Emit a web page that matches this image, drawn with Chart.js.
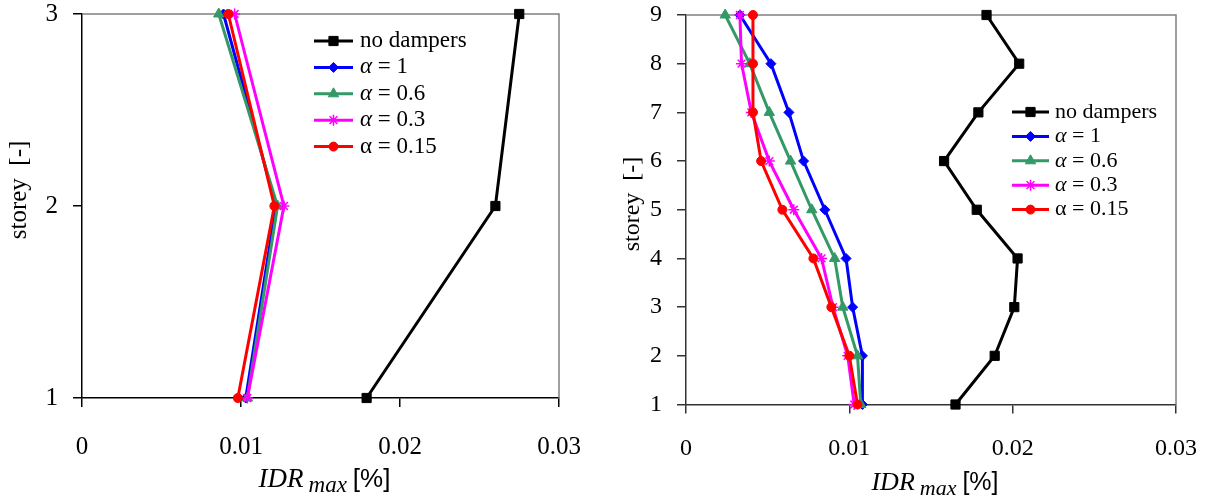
<!DOCTYPE html>
<html lang="en">
<head>
<meta charset="UTF-8">
<title>IDR max per storey</title>
<script src="https://cdn.jsdelivr.net/npm/chart.js"></script>
<style>
  html, body { margin: 0; padding: 0; background: #fff; }
  body { width: 1215px; height: 498px; position: relative; overflow: hidden; }
  .panel { position: absolute; top: 0; height: 498px; }
  #left { left: 0; width: 600px; }
  #right { left: 600px; width: 615px; }
</style>
</head>
<body>
<div class="panel" id="left"><canvas id="chart3" width="600" height="498"></canvas></div>
<div class="panel" id="right"><canvas id="chart9" width="615" height="498"></canvas></div>
<script>
// 3-storey building
const storeys3 = [1, 2, 3];
const noDampers3 = [0.0179, 0.0260, 0.0275];
const alpha1_3 = [0.0103, 0.0122, 0.0089];
const alpha06_3 = [0.0104, 0.0123, 0.0086];
const alpha03_3 = [0.0104, 0.0127, 0.0096];
const alpha015_3 = [0.0098, 0.0121, 0.0092];

// 9-storey building
const storeys9 = [1, 2, 3, 4, 5, 6, 7, 8, 9];
const noDampers9 = [0.0165, 0.0189, 0.0201, 0.0203, 0.0178, 0.0158, 0.0179, 0.0204, 0.0184];
const alpha1_9 = [0.0108, 0.0108, 0.0102, 0.0098, 0.0085, 0.0072, 0.0063, 0.0052, 0.0033];
const alpha06_9 = [0.0107, 0.0105, 0.0096, 0.0091, 0.0077, 0.0064, 0.0051, 0.0039, 0.0024];
const alpha03_9 = [0.0103, 0.0099, 0.0090, 0.0083, 0.0066, 0.0051, 0.0040, 0.0034, 0.0033];
const alpha015_9 = [0.0105, 0.0100, 0.0089, 0.0078, 0.0059, 0.0046, 0.0041, 0.0041, 0.0041];

const seriesLabels = ['no dampers', 'α = 1', 'α = 0.6', 'α = 0.3', 'α = 0.15'];
const italicAlpha = [false, true, true, true, false];
const xTicks = [0, 0.01, 0.02, 0.03];

const seriesStyles = [
    { color: '#000000', point: 'rect', radius: 6.5 },
    { color: '#0000FF', point: 'rectRot', radius: 5 },
    { color: '#339966', point: 'triangle', radius: 6 },
    { color: '#FF00FF', point: 'star', radius: 5.5 },
    { color: '#FF0000', point: 'circle', radius: 4.5 }
];

const SERIF = "'Liberation Serif', 'Times New Roman', serif";
const SANS = "'Liberation Sans', Arial, sans-serif";

function makeDatasets(storeys, series) {
    return series.map((vals, i) => ({
        label: seriesLabels[i],
        data: storeys.map((s, k) => ({ x: vals[k], y: s })),
        showLine: true,
        borderColor: seriesStyles[i].color,
        backgroundColor: seriesStyles[i].color,
        borderWidth: 3,
        pointStyle: seriesStyles[i].point,
        pointRadius: seriesStyles[i].radius,
        pointBorderWidth: seriesStyles[i].point === 'star' ? 1.5 : 1,
        pointBorderColor: seriesStyles[i].color,
        pointBackgroundColor: seriesStyles[i].color,
        tension: 0,
        clip: false,
        order: series.length - i
    }));
}

// frame (top + right), legend inside plot, composite axis titles
const decorPlugin = {
    id: 'decor',
    beforeDatasetsDraw(chart) {
        const a = chart.chartArea;
        const ctx = chart.ctx;
        ctx.save();
        ctx.strokeStyle = '#808080';
        ctx.lineWidth = 1.5;
        ctx.beginPath();
        ctx.moveTo(a.left, a.top);
        ctx.lineTo(a.right, a.top);
        ctx.lineTo(a.right, a.bottom);
        ctx.stroke();
        ctx.restore();
    },
    afterDraw(chart) {
        const g = chart.options.plugins.decor;
        const ctx = chart.ctx;
        const a = chart.chartArea;
        ctx.save();

        // legend
        chart.data.datasets.forEach((ds, i) => {
            const y = g.legendY + i * g.legendDy;
            ctx.strokeStyle = ds.borderColor;
            ctx.lineWidth = 3;
            ctx.beginPath();
            ctx.moveTo(g.legendX, y);
            ctx.lineTo(g.legendX + g.legendLen, y);
            ctx.stroke();
            ctx.fillStyle = ds.borderColor;
            ctx.lineWidth = ds.pointBorderWidth;
            if (Chart.helpers && Chart.helpers.drawPoint) {
                Chart.helpers.drawPoint(ctx, { pointStyle: ds.pointStyle, radius: ds.pointRadius, borderWidth: ds.pointBorderWidth, rotation: 0 }, g.legendX + g.legendLen / 2, y);
            }
            ctx.fillStyle = '#000';
            ctx.textBaseline = 'middle';
            ctx.textAlign = 'left';
            let tx = g.legendX + g.legendLen + g.legendGap;
            let text = ds.label;
            if (italicAlpha[i]) {
                ctx.font = 'italic ' + g.legendFont + 'px ' + SERIF;
                ctx.fillText(text[0], tx, y);
                tx += ctx.measureText(text[0]).width;
                text = text.slice(1);
            }
            ctx.font = g.legendFont + 'px ' + SERIF;
            ctx.fillText(text, tx, y);
        });

        // x axis title: IDR_max [%]
        const p1 = 'IDR', p2 = 'max', p3 = '[%]';
        const f1 = 'italic ' + g.titleFont + 'px ' + SERIF;
        const f2 = 'italic ' + Math.round(g.titleFont * 0.85) + 'px ' + SERIF;
        const f3 = Math.round(g.titleFont * 0.97) + 'px ' + SANS;
        ctx.font = f1; const w1 = ctx.measureText(p1).width;
        ctx.font = f2; const w2 = ctx.measureText(p2).width;
        ctx.font = f3; const w3 = ctx.measureText(p3).width;
        const gap1 = 5, gap2 = 6;
        let x = (a.left + a.right) / 2 + 4 - (w1 + gap1 + w2 + gap2 + w3) / 2;
        ctx.textBaseline = 'alphabetic';
        ctx.textAlign = 'left';
        ctx.fillStyle = '#000';
        ctx.font = f1; ctx.fillText(p1, x, g.titleBase); x += w1 + gap1;
        ctx.font = f2; ctx.fillText(p2, x, g.titleBase + 5); x += w2 + gap2;
        ctx.font = f3; ctx.fillText(p3, x, g.titleBase);

        // y axis title
        ctx.translate(g.yTitleX, g.yTitleY);
        ctx.rotate(-Math.PI / 2);
        ctx.textAlign = 'center';
        ctx.textBaseline = 'middle';
        ctx.font = g.tickFont + 'px ' + SERIF;
        ctx.fillText('storey  [-]', 0, 0);
        ctx.restore();
    }
};

function buildChart(id, storeys, series, geom) {
    const axisColor = geom.axisColor;
    return new Chart(document.getElementById(id), {
        type: 'scatter',
        data: { datasets: makeDatasets(storeys, series) },
        options: {
            responsive: false,
            animation: false,
            events: [],
            layout: { padding: { top: geom.top, right: geom.right, left: 0, bottom: 0 } },
            plugins: {
                legend: { display: false },
                tooltip: { enabled: false },
                decor: geom
            },
            scales: {
                x: {
                    type: 'linear',
                    min: 0,
                    max: 0.03,
                    afterBuildTicks: (s) => { s.ticks = xTicks.map(v => ({ value: v })); },
                    afterFit: (s) => { s.height = geom.xHeight; s.paddingLeft = 0; s.paddingRight = 0; },
                    border: { color: axisColor, width: 1.5 },
                    grid: { drawOnChartArea: false, drawTicks: true, tickLength: 9, color: axisColor, lineWidth: 1.5 },
                    ticks: {
                        padding: geom.xPad,
                        color: '#000',
                        maxRotation: 0,
                        font: { family: SERIF, size: geom.tickFont },
                        callback: (v) => v === 0 ? '0' : Number(v).toFixed(2)
                    }
                },
                y: {
                    type: 'linear',
                    min: storeys[0],
                    max: storeys[storeys.length - 1],
                    afterBuildTicks: (s) => { s.ticks = storeys.map(v => ({ value: v })); },
                    afterFit: (s) => { s.width = geom.yWidth; s.paddingTop = 0; s.paddingBottom = 0; },
                    border: { color: axisColor, width: 1.5 },
                    grid: { drawOnChartArea: false, drawTicks: true, tickLength: 9, color: axisColor, lineWidth: 1.5 },
                    ticks: {
                        padding: 15,
                        color: '#000',
                        font: { family: SERIF, size: geom.tickFont },
                        callback: (v) => String(v)
                    }
                }
            }
        },
        plugins: [decorPlugin]
    });
}

buildChart('chart3', storeys3, [noDampers3, alpha1_3, alpha06_3, alpha03_3, alpha015_3], {
    top: 14, right: 41, xHeight: 100, yWidth: 82, xPad: 25, tickFont: 25,
    axisColor: '#000000',
    legendX: 314, legendY: 41, legendDy: 26.4, legendLen: 39, legendGap: 7, legendFont: 23,
    titleFont: 27, titleBase: 487,
    yTitleX: 19, yTitleY: 190
});

buildChart('chart9', storeys9, [noDampers9, alpha1_9, alpha06_9, alpha03_9, alpha015_9], {
    top: 15, right: 39, xHeight: 93.5, yWidth: 86, xPad: 21, tickFont: 24,
    axisColor: '#333333',
    legendX: 412, legendY: 112, legendDy: 24.4, legendLen: 37, legendGap: 6, legendFont: 22,
    titleFont: 26, titleBase: 490,
    yTitleX: 33, yTitleY: 204
});
</script>
</body>
</html>
